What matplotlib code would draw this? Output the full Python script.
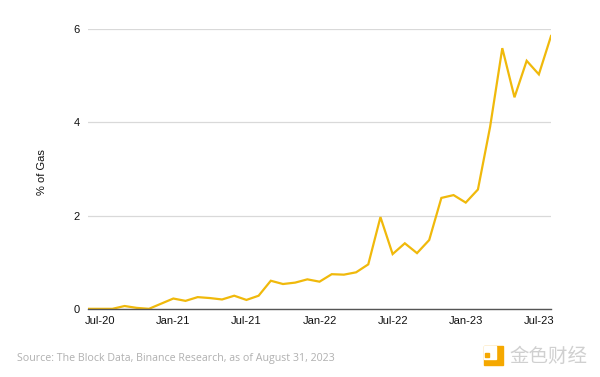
import matplotlib
matplotlib.use("Agg")
from matplotlib import pyplot as plt
from matplotlib.patches import Rectangle

# monthly share of gas, Jun-20 .. Aug-23
months = ["Jun-20", "Jul-20", "Aug-20", "Sep-20", "Oct-20", "Nov-20", "Dec-20",
          "Jan-21", "Feb-21", "Mar-21", "Apr-21", "May-21", "Jun-21", "Jul-21",
          "Aug-21", "Sep-21", "Oct-21", "Nov-21", "Dec-21", "Jan-22", "Feb-22",
          "Mar-22", "Apr-22", "May-22", "Jun-22", "Jul-22", "Aug-22", "Sep-22",
          "Oct-22", "Nov-22", "Dec-22", "Jan-23", "Feb-23", "Mar-23", "Apr-23",
          "May-23", "Jun-23", "Jul-23", "Aug-23"]
gas_pct = [0.01, 0.01, 0.01, 0.07, 0.03, 0.01, 0.12,
           0.23, 0.18, 0.26, 0.24, 0.21, 0.29, 0.20,
           0.29, 0.61, 0.54, 0.57, 0.64, 0.59, 0.75,
           0.74, 0.79, 0.96, 1.97, 1.18, 1.41, 1.20,
           1.48, 2.38, 2.44, 2.28, 2.56, 3.90, 5.58,
           4.53, 5.31, 5.02, 5.84]
tick_labels = ["Jul-20", "Jan-21", "Jul-21", "Jan-22", "Jul-22", "Jan-23", "Jul-23"]
y_ticks = [0, 2, 4, 6]

plt.rcParams["font.family"] = ["Liberation Sans", "DejaVu Sans"]

fig = plt.figure(figsize=(6, 3.77), dpi=100)
ax = fig.add_axes([0.1467, 0.1796, 0.7717, 0.7448])

x = list(range(len(months)))
ax.plot(x, gas_pct, color="#F0B90B", lw=1.6, solid_joinstyle="miter", zorder=3)

ax.set_xlim(0, len(months) - 1)
ax.set_ylim(0, 6)
ax.set_yticks(y_ticks)
ax.set_yticklabels([str(v) for v in y_ticks])
ax.set_xticks([months.index(m) for m in tick_labels])
ax.set_xticklabels(tick_labels)

ax.grid(axis="y", color="#d9d9d9", lw=0.9)
ax.set_axisbelow(True)
for s in ["top", "right", "left"]:
    ax.spines[s].set_visible(False)
ax.spines["bottom"].set_color("#555555")
ax.spines["bottom"].set_linewidth(1.0)
ax.spines["bottom"].set_zorder(4)
ax.tick_params(axis="both", length=0, labelsize=8, colors="#111111")
ax.tick_params(axis="y", pad=6)
ax.tick_params(axis="x", pad=5)

fig.text(42 / 600, 1 - 172 / 377, "% of Gas", rotation=90, ha="center",
         va="center", fontsize=8, color="#111111")

fig.text(17 / 600, 1 - 359 / 377,
         "Source: The Block Data, Binance Research, as of August 31, 2023",
         ha="left", va="center", fontsize=7.7, color="#b0b0b0",
         family="Open Sans")

# watermark
fig.patches.append(Rectangle((484 / 600, 1 - 365 / 377), 19 / 600, 19 / 377,
                             transform=fig.transFigure, color="#F5A800", zorder=1))
fig.patches.append(Rectangle((484 / 600, 1 - 359 / 377), 12 / 600, 13 / 377,
                             transform=fig.transFigure, color="white", zorder=2))
fig.patches.append(Rectangle((485 / 600, 1 - 357 / 377), 4 / 600, 4 / 377,
                             transform=fig.transFigure, color="#F5A800", zorder=3))
fig.text(509 / 600, 1 - 356 / 377, "金色财经", ha="left", va="center",
         fontsize=14, color="#d0d0d0", family=["Noto Sans CJK SC", "DejaVu Sans"])

fig.savefig("out.png", dpi=100)
